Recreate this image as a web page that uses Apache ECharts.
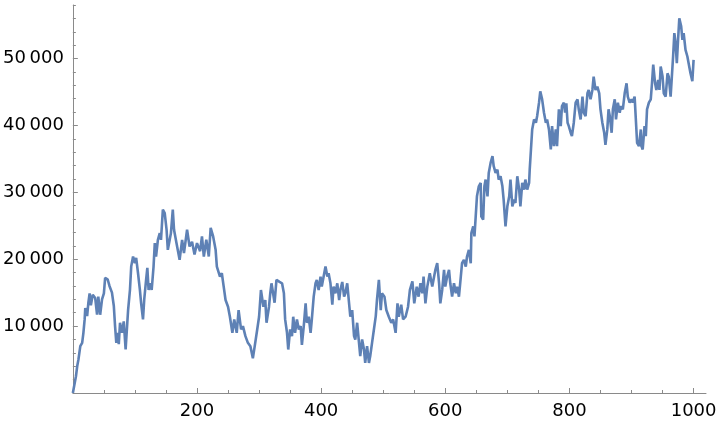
<!DOCTYPE html>
<html>
<head>
<meta charset="utf-8">
<script src="https://cdn.jsdelivr.net/npm/echarts@6.0.0/dist/echarts.min.js"></script>
<style>
  html, body { margin: 0; padding: 0; background: #fff; }
  #chart { width: 720px; height: 424px; }
</style>
</head>
<body>
<div id="chart"></div>
<script>
// random walk: step -> running total
const steps = [
  0, 3, 5, 7, 9, 12, 15, 17, 19, 20, 23, 25, 27, 29, 32, 36, 39, 41, 44, 47,
  50, 52, 56, 59, 63, 66, 68, 70, 72, 74, 76, 79, 82, 85, 86, 89, 92, 94, 97, 100,
  102, 105, 108, 110, 113, 115, 118, 120, 122, 125, 127, 130, 132, 134, 137, 140, 142, 145, 148, 151,
  153, 156, 158, 161, 163, 167, 172, 176, 179, 184, 188, 192, 196, 200, 205, 208, 211, 215, 219, 222,
  226, 230, 232, 237, 240, 243, 246, 250, 253, 257, 260, 264, 267, 271, 274, 278, 282, 286, 290, 293,
  297, 300, 303, 307, 310, 312, 316, 318, 320, 322, 325, 328, 333, 337, 340, 342, 345, 347, 350, 353,
  355, 358, 361, 364, 367, 369, 372, 375, 377, 380, 383, 385, 388, 391, 393, 396, 399, 401, 404, 407,
  410, 412, 415, 418, 420, 423, 426, 429, 431, 434, 437, 439, 442, 445, 447, 450, 453, 455, 458, 461,
  463, 466, 469, 471, 474, 477, 479, 482, 485, 488, 490, 493, 496, 498, 502, 505, 509, 513, 516, 520,
  523, 525, 529, 532, 536, 540, 543, 547, 550, 554, 557, 560, 563, 565, 568, 571, 575, 579, 582, 584,
  587, 590, 592, 595, 598, 600, 603, 606, 608, 611, 614, 617, 619, 622, 625, 627, 630, 633, 635, 638,
  641, 642, 645, 647, 649, 651, 654, 657, 658, 661, 663, 665, 668, 670, 673, 676, 678, 681, 684, 686,
  689, 692, 694, 697, 700, 703, 705, 708, 711, 713, 716, 719, 721, 724, 727, 729, 732, 735, 736, 738,
  740, 743, 746, 748, 751, 753, 756, 759, 762, 764, 767, 770, 772, 775, 778, 780, 783, 786, 788, 791,
  793, 795, 797, 799, 802, 804, 807, 810, 813, 815, 818, 821, 823, 826, 829, 831, 834, 837, 839, 842,
  845, 848, 850, 853, 856, 858, 861, 863, 865, 868, 870, 873, 875, 878, 881, 883, 886, 889, 892, 894,
  897, 900, 902, 905, 908, 909, 912, 915, 916, 918, 921, 923, 925, 928, 931, 933, 935, 938, 940, 943,
  945, 947, 950, 952, 955, 958, 960, 963, 965, 967, 969, 971, 973, 975, 977, 980, 982, 984, 987, 990,
  992, 995, 998, 1000
]
const totals = [
  0, 1500, 2500, 4000, 5000, 7000, 7500, 9000, 11000, 12700, 11500, 13500, 14900, 13100, 14700, 14200, 11700, 14400, 11700, 14000,
  14900, 17200, 17000, 16000, 15000, 13000, 10000, 7500, 9000, 7300, 10500, 9000, 10700, 6500, 8000, 12400, 15400, 18900, 20400, 19400,
  20200, 17900, 15400, 13400, 11000, 14000, 16900, 18700, 15400, 16400, 15400, 18900, 22400, 20400, 22900, 23900, 22900, 27400, 26900, 24400,
  21400, 22900, 23900, 27400, 24400, 22400, 19900, 22900, 20900, 24400, 21900, 22600, 20700, 22400, 21200, 23400, 20400, 22900, 20400, 24700,
  23400, 21400, 18900, 17400, 17900, 15900, 13900, 12900, 11400, 9000, 11000, 9000, 12400, 9500, 10000, 8500, 7500, 7000, 5200, 7000,
  9500, 11400, 15400, 12900, 13900, 10500, 12900, 14900, 16400, 16400, 13500, 16900, 16600, 16400, 14900, 11000, 9000, 6500, 9500, 8500,
  11400, 9000, 11000, 9500, 10000, 7200, 10000, 13400, 10500, 11400, 9000, 11000, 14400, 16400, 16900, 15400, 17400, 15900, 17400, 18900,
  17400, 17900, 16400, 13200, 15900, 14900, 16400, 13900, 15400, 16600, 14400, 14900, 16400, 13400, 11400, 12400, 8500, 8000, 10500, 7500,
  5500, 8000, 6500, 4500, 7000, 4500, 5500, 7500, 9500, 11500, 14000, 16900, 12400, 14900, 14400, 12400, 11400, 10500, 11000, 9000,
  13400, 11400, 13200, 11000, 11400, 12900, 15400, 16700, 13400, 15900, 14400, 16400, 14900, 17400, 13400, 15900, 17900, 15900, 17400, 18400,
  19400, 16400, 13400, 15400, 18400, 15900, 17400, 18400, 16400, 14400, 16400, 14900, 15900, 14400, 17400, 19400, 19900, 18900, 20400, 21400,
  19400, 23900, 24900, 23400, 26400, 29400, 30900, 31400, 26400, 25900, 30900, 31900, 29400, 32900, 34400, 35400, 33900, 32900, 33400, 31900,
  32400, 30900, 28900, 24900, 27900, 29400, 31900, 27900, 28900, 28400, 32400, 30400, 27900, 31400, 30400, 31900, 30400, 31400, 33400, 36400,
  39400, 40900, 40400, 41400, 43400, 45100, 43900, 41900, 40400, 40900, 39400, 36400, 39900, 36900, 39400, 36900, 42400, 39900, 42900, 43400,
  41900, 43300, 40400, 39900, 38900, 38400, 40400, 43400, 43900, 42400, 40900, 44300, 41900, 41400, 44800, 45300, 43900, 45300, 47300, 45300,
  45800, 44800, 42400, 40400, 38900, 37100, 39400, 42400, 41400, 38900, 42400, 43900, 40900, 43400, 41900, 42900, 42400, 44800, 46300, 44300,
  43400, 43900, 43400, 44300, 44300, 37400, 36900, 39400, 36900, 36400, 39900, 38400, 42400, 43400, 43900, 46300, 49100, 46300, 45300, 46800,
  45300, 48800, 47300, 44800, 44300, 47800, 47300, 44300, 47300, 50300, 53800, 52300, 49300, 52800, 56000, 54800, 52800, 53800, 51300, 50300,
  49300, 47800, 46600, 49800
]

const xMajorTicks = [200, 400, 600, 800, 1000]
const xMinorTicks = [50, 100, 150, 250, 300, 350, 450, 500, 550, 650, 700, 750, 850, 900, 950]
const yMajorTicks = [10000, 20000, 30000, 40000, 50000]
const yMinorTicks = [
  2000, 4000, 6000, 8000, 12000, 14000, 16000, 18000, 22000, 24000, 26000, 28000,
  32000, 34000, 36000, 38000, 42000, 44000, 46000, 48000, 52000, 54000, 56000, 58000
]

const axisGray = '#8a8a8a'
const labelFont = { fontFamily: 'DejaVu Sans', fontSize: 18, color: '#000' }

// major axis carries line, long ticks and labels; the twin only draws short ticks
const xAxes = [
  {
    type: 'value', min: 0, max: 1020, position: 'bottom',
    axisLine: { onZero: false, lineStyle: { color: axisGray, width: 1 } },
    axisTick: { inside: true, length: 5, customValues: xMajorTicks, lineStyle: { color: axisGray } },
    axisLabel: { ...labelFont, margin: 9, customValues: xMajorTicks, formatter: v => String(v) },
    splitLine: { show: false }
  },
  {
    type: 'value', min: 0, max: 1020, position: 'bottom',
    axisLine: { show: false },
    axisTick: { inside: true, length: 3, customValues: xMinorTicks, lineStyle: { color: axisGray } },
    axisLabel: { show: false },
    splitLine: { show: false }
  }
]
const yAxes = [
  {
    type: 'value', min: 0, max: 58000, position: 'left',
    axisLine: { show: true, onZero: false, lineStyle: { color: axisGray, width: 1 } },
    axisTick: { show: true, inside: true, length: 5, customValues: yMajorTicks, lineStyle: { color: axisGray } },
    axisLabel: {
      ...labelFont, margin: 9, customValues: yMajorTicks,
      formatter: v => (v / 1000) + '\u2009000'
    },
    splitLine: { show: false }
  },
  {
    type: 'value', min: 0, max: 58000, position: 'left', offset: 0,
    axisLine: { show: false },
    axisTick: { show: true, inside: true, length: 3, customValues: yMinorTicks, lineStyle: { color: axisGray } },
    axisLabel: { show: false },
    splitLine: { show: false }
  }
]

const chart = echarts.init(document.getElementById('chart'), null, { renderer: 'canvas' })
chart.setOption({
  animation: false,
  grid: { left: 72, right: 14, top: 5, bottom: 31, containLabel: false },
  xAxis: xAxes,
  yAxis: yAxes,
  series: [
    {
      type: 'line',
      xAxisIndex: 0,
      yAxisIndex: 0,
      showSymbol: false,
      lineStyle: { color: '#5e81b5', width: 2.6 },
      data: steps.map((s, i) => [s, totals[i]])
    }
  ]
})
</script>
</body>
</html>
